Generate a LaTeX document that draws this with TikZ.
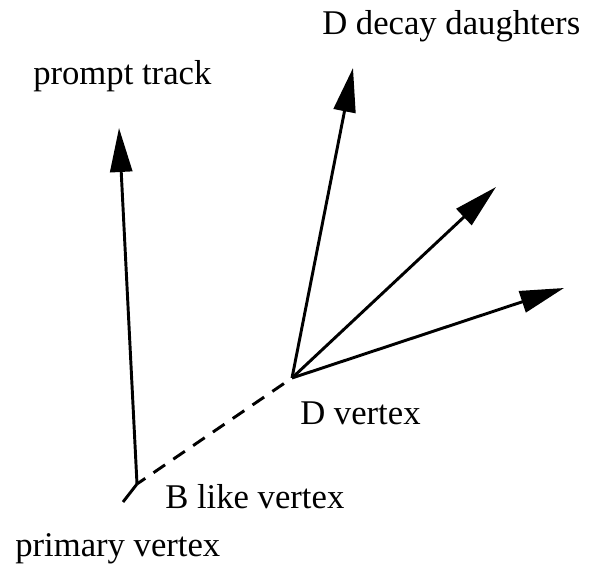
\documentclass[tikz,border=0pt]{standalone}
\usepackage{fontspec}
\setmainfont{Liberation Serif}
\usetikzlibrary{arrows.meta}
\begin{document}
\begin{tikzpicture}[x=0.75pt,y=-0.75pt,
  trk/.style={line width=2.2pt},
  arr/.style={trk,-{Triangle[length=33pt,width=16.5pt]}},
  lbl/.style={anchor=base west,inner sep=0pt,font=\fontsize{26}{31}\selectfont}]
\useasboundingbox (0,0) rectangle (597,566);
\coordinate (B) at (137,484);
\coordinate (D) at (292,378);
\coordinate (P) at (119,128);
\coordinate (S) at (123,502);
\coordinate (T1) at (353,68);
\coordinate (T2) at (496,187);
\coordinate (T3) at (564,288);
\draw[arr] (B) -- (P);
\draw[trk] (S) -- (B);
\draw[trk,dash pattern=on 10.5pt off 7.5pt,dash phase=3pt] (B) -- (D);
\draw[arr] (D) -- (T1);
\draw[arr] (D) -- (T2);
\draw[arr] (D) -- (T3);
\node[lbl] (ldd) at (322,35) {D decay daughters};
\node[lbl] (lpt) at (33,85) {prompt track};
\node[lbl] (ldv) at (300,425) {D vertex};
\node[lbl] (lbv) at (165,509) {B like vertex};
\node[lbl] (lpv) at (15,557) {primary vertex};
\end{tikzpicture}
\end{document}
